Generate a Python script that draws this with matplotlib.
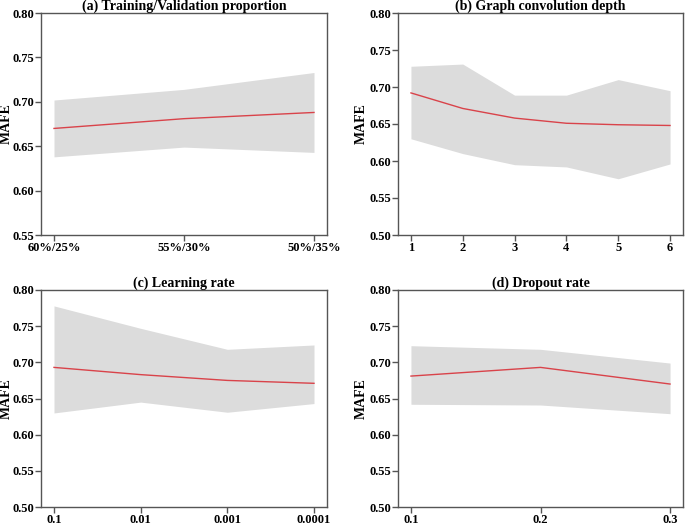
import matplotlib
matplotlib.use("Agg")
import matplotlib.pyplot as plt
import numpy as np

plt.rcParams['font.family'] = ['Liberation Serif', 'DejaVu Serif']
plt.rcParams['font.weight'] = 'bold'

# (a) Training/Validation proportion
a_labels = ["60%/25%", "55%/30%", "50%/35%"]
a_mean = [0.670, 0.681, 0.688]
a_upper = [0.702, 0.714, 0.733]
a_lower = [0.638, 0.649, 0.643]

# (b) Graph convolution depth
b_x = [1, 2, 3, 4, 5, 6]
b_mean = [0.692, 0.671, 0.658, 0.651, 0.649, 0.648]
b_upper = [0.728, 0.731, 0.689, 0.689, 0.710, 0.695]
b_lower = [0.630, 0.610, 0.595, 0.592, 0.576, 0.596]

# (c) Learning rate
c_labels = ["0.1", "0.01", "0.001", "0.0001"]
c_mean = [0.693, 0.683, 0.675, 0.671]
c_upper = [0.778, 0.747, 0.718, 0.724]
c_lower = [0.630, 0.645, 0.631, 0.643]

# (d) Dropout rate
d_x = [0.1, 0.2, 0.3]
d_mean = [0.681, 0.693, 0.670]
d_upper = [0.723, 0.718, 0.699]
d_lower = [0.642, 0.641, 0.629]

titles = ["(a) Training/Validation proportion", "(b) Graph convolution depth",
          "(c) Learning rate", "(d) Dropout rate"]

fig = plt.figure(figsize=(6.85, 5.27), dpi=100)
positions = [
    [41/685, 1-235/527, 286/685, 222/527],
    [398/685, 1-235/527, 285/685, 222/527],
    [41/685, 1-507/527, 286/685, 217/527],
    [398/685, 1-507/527, 285/685, 217/527],
]
axes = [fig.add_axes(p) for p in positions]

line_color = '#d9434a'
fill_color = '#dcdcdc'
spine_color = '#555555'

def style(ax, title, ylim, yticks, label_x):
    ax.set_title(title, fontsize=10, fontweight='bold', pad=1)
    ax.set_ylim(*ylim)
    ax.set_yticks(yticks)
    ax.set_yticklabels([f"{v:.2f}" for v in yticks])
    ax.set_ylabel("MAFE", fontsize=10, fontweight='bold')
    ax.yaxis.set_label_coords(label_x, 0.5)
    for s in ax.spines.values():
        s.set_color(spine_color)
        s.set_linewidth(1.0)
    ax.tick_params(axis='both', colors=spine_color, labelcolor='black',
                   labelsize=9, length=4, width=1.0, pad=1)
    for lbl in ax.get_xticklabels() + ax.get_yticklabels():
        lbl.set_fontweight('bold')

# (a)
ax = axes[0]
xa = np.arange(len(a_labels))
ax.fill_between(xa, a_lower, a_upper, color=fill_color, linewidth=0)
ax.plot(xa, a_mean, color=line_color, linewidth=1.0)
ax.set_xticks(xa)
ax.set_xticklabels(a_labels)
style(ax, titles[0], (0.55, 0.80), [0.55, 0.60, 0.65, 0.70, 0.75, 0.80], -0.098)

# (b)
ax = axes[1]
ax.fill_between(b_x, b_lower, b_upper, color=fill_color, linewidth=0)
ax.plot(b_x, b_mean, color=line_color, linewidth=1.0)
ax.set_xticks(b_x)
ax.set_xticklabels([str(v) for v in b_x])
style(ax, titles[1], (0.50, 0.80), [0.50, 0.55, 0.60, 0.65, 0.70, 0.75, 0.80], -0.105)

# (c)
ax = axes[2]
xc = np.arange(len(c_labels))
ax.fill_between(xc, c_lower, c_upper, color=fill_color, linewidth=0)
ax.plot(xc, c_mean, color=line_color, linewidth=1.0)
ax.set_xticks(xc)
ax.set_xticklabels(c_labels)
style(ax, titles[2], (0.50, 0.80), [0.50, 0.55, 0.60, 0.65, 0.70, 0.75, 0.80], -0.098)

# (d)
ax = axes[3]
ax.fill_between(d_x, d_lower, d_upper, color=fill_color, linewidth=0)
ax.plot(d_x, d_mean, color=line_color, linewidth=1.0)
ax.set_xticks(d_x)
ax.set_xticklabels([str(v) for v in d_x])
style(ax, titles[3], (0.50, 0.80), [0.50, 0.55, 0.60, 0.65, 0.70, 0.75, 0.80], -0.105)

fig.savefig("out.png", dpi=100)
